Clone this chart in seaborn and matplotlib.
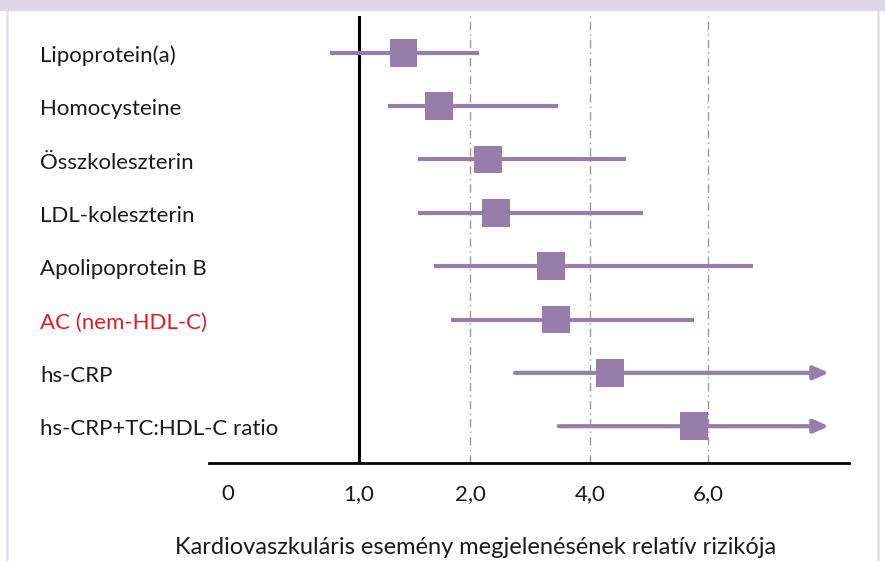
import numpy as np
import pandas as pd
import matplotlib
matplotlib.use("Agg")
import matplotlib.pyplot as plt
import matplotlib.patches as mpatches
import seaborn as sns

# ---- data -------------------------------------------------------------
markers = [
    "Lipoprotein(a)",
    "Homocysteine",
    "Összkoleszterin",
    "LDL-koleszterin",
    "Apolipoprotein B",
    "AC (nem-HDL-C)",
    "hs-CRP",
    "hs-CRP+TC:HDL-C ratio",
]
rr_estimate = [1.40, 1.72, 2.30, 2.43, 3.35, 3.43, 4.34, 5.76]
ci_lower = [0.78, 1.26, 1.53, 1.53, 1.68, 1.83, 2.75, 3.48]
ci_upper = [2.15, 3.47, 4.61, 4.90, 6.76, 5.76, 8.05, 8.05]
ci_open_ended = [False, False, False, False, False, False, True, True]
highlighted = "AC (nem-HDL-C)"

tick_values = [0, 1, 2, 4, 6]
tick_labels = ["0", "1,0", "2,0", "4,0", "6,0"]
x_label = "Kardiovaszkuláris esemény megjelenésének relatív rizikója"

df = pd.DataFrame({
    "marker": markers,
    "rr": rr_estimate,
    "lo": ci_lower,
    "hi": ci_upper,
    "open": ci_open_ended,
})
df["row"] = np.arange(len(df))

# ---- style ------------------------------------------------------------
sns.set_theme(style="white")
plt.rcParams["font.family"] = ["Lato", "DejaVu Sans"]

PURPLE = "#967DAA"
RED = "#D81F2B"
TEXT = "#1A1A1A"

# Piecewise axis: irregular spacing between 0, 1, 2, 4 and 6
_knots_v = np.array([-1.0, 0.0, 1.0, 2.0, 4.0, 6.0, 12.0])
_knots_p = np.array([-131.0, 0.0, 131.0, 242.0, 362.0, 480.0, 834.0])


def fwd(v):
    return np.interp(v, _knots_v, _knots_p)


def inv(p):
    return np.interp(p, _knots_p, _knots_v)


W, H = 885, 561
fig = plt.figure(figsize=(W / 100, H / 100), dpi=100)
fig.patch.set_facecolor("white")

# frame decoration: top band and thin side rules
fig.patches.append(mpatches.Rectangle((0, 1 - 10 / H), 1, 10 / H,
                                      transform=fig.transFigure,
                                      color="#DCD8EA", zorder=0))
for xp in (7, 878):
    fig.add_artist(plt.Line2D([xp / W, xp / W], [0, 1 - 10 / H],
                              transform=fig.transFigure,
                              color="#E0DDEC", lw=1.8))

ax = fig.add_axes([209 / W, 1 - 463 / H, (849 - 209) / W, (463 - 16) / H])
ax.set_xscale("function", functions=(fwd, inv))
ax.set_xlim(-0.145, 8.39)
ax.set_ylim(len(df) - 1 + 0.69, -0.69)
ax.set_facecolor("none")

# guides
for v in tick_values[2:]:
    ax.axvline(v, color="#9A9A9A", lw=1.0, ls=(0, (6, 3, 1, 3)), zorder=1)
ax.axvline(1, color="black", lw=2.2, zorder=2)

# confidence intervals
closed = df[~df["open"]]
ax.hlines(closed["row"], closed["lo"], closed["hi"], color=PURPLE, lw=3.0,
          zorder=3)
for _, r in df[df["open"]].iterrows():
    ax.annotate("", xy=(r["hi"], r["row"]), xytext=(r["lo"], r["row"]),
                arrowprops=dict(arrowstyle="-|>,head_length=0.45,head_width=0.2",
                                color=PURPLE, lw=3.0, shrinkA=0, shrinkB=0,
                                mutation_scale=20),
                zorder=3)

# point estimates
sns.scatterplot(data=df, x="rr", y="row", marker="s", s=20 ** 2,
                color=PURPLE, edgecolor="none", linewidth=0, ax=ax,
                zorder=4, legend=False)

# axes cosmetics
for side in ("top", "right", "left"):
    ax.spines[side].set_visible(False)
ax.spines["bottom"].set_color("black")
ax.spines["bottom"].set_linewidth(2.0)
ax.set_yticks([])
ax.set_xticks(tick_values)
ax.set_xticklabels(tick_labels, fontsize=16, color=TEXT)
ax.tick_params(axis="x", length=0, pad=15)
ax.set_xlabel("")
ax.set_ylabel("")

# row labels, left-aligned, sitting slightly below each row's centre line
trans = matplotlib.transforms.blended_transform_factory(fig.transFigure,
                                                        ax.transData)
for _, r in df.iterrows():
    ax.text(40 / W, r["row"] + 0.06, r["marker"], transform=trans, ha="left",
            va="center", fontsize=16,
            color=RED if r["marker"] == highlighted else TEXT)

fig.text(476 / W, 1 - 548 / H, x_label, ha="center", va="center",
         fontsize=17, color=TEXT)

fig.savefig("out.png", dpi=100, facecolor="white")
